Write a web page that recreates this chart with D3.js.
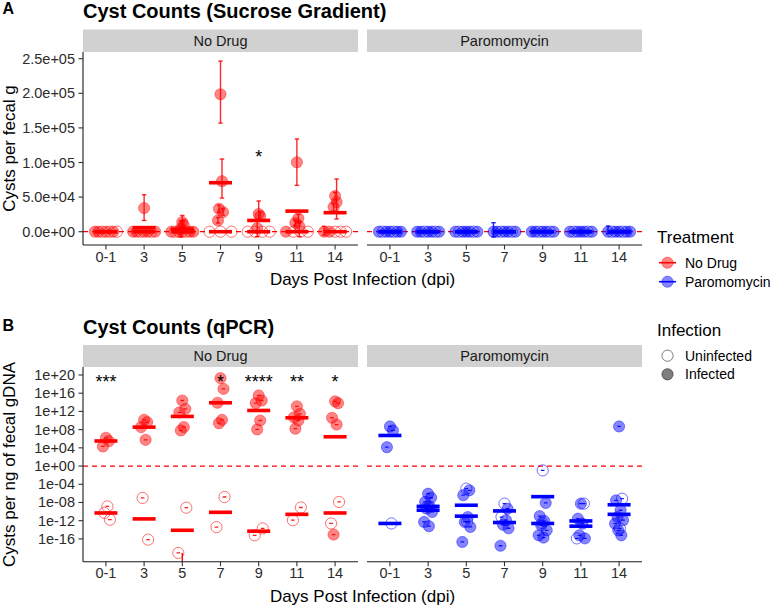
<!DOCTYPE html>
<html><head><meta charset="utf-8">
<script src="https://cdn.jsdelivr.net/npm/d3@7"></script>
<style>body{margin:0;background:#fff} text{font-family:"Liberation Sans",Arial,sans-serif}</style>
</head><body><svg id="c" width="771" height="605"></svg>
<script>
// ---------------- DATA ----------------
const days = ["0-1","3","5","7","9","11","14"];
const treatments = ["No Drug","Paromomycin"];

// Panel A: cysts per fecal g — [day, value, lower, upper, infected]
const sucroseNoDrug = [
 ["0-1",0,0,0,1],["0-1",0,0,0,1],["0-1",0,0,0,0],["0-1",0,0,0,1],["0-1",0,0,0,0],["0-1",0,0,0,1],["0-1",0,0,0,0],
 ["3",34100,16300,53500,1],["3",0,0,0,1],["3",0,0,0,1],["3",0,0,0,0],["3",0,0,0,1],["3",0,0,0,1],["3",0,0,0,0],["3",0,0,0,1],
 ["5",13900,4500,23500,1],["5",9100,1500,17000,1],["5",4300,-7800,16000,1],["5",0,0,0,1],["5",0,0,0,0],["5",0,0,0,1],["5",0,0,0,1],["5",0,0,0,0],["5",0,0,0,1],["5",0,0,0,1],
 ["7",198600,157000,246600,1],["7",73000,48600,105000,1],["7",33200,28000,38500,1],["7",28300,24000,33000,1],["7",16300,12500,20500,1],["7",0,0,0,0],["7",0,0,0,0],["7",0,0,0,0],
 ["9",25600,18000,44400,1],["9",22700,17000,28500,1],["9",4900,-7200,17000,1],["9",0,0,0,0],["9",0,0,0,0],["9",0,0,0,0],["9",0,0,0,0],
 ["11",100300,67000,134000,1],["11",19400,14000,25000,1],["11",12900,9000,17000,1],["11",7700,-7000,15000,1],["11",0,0,0,1],["11",0,0,0,0],["11",0,0,0,0],["11",0,0,0,0],
 ["14",51600,46000,57000,1],["14",42800,18400,76200,1],["14",35600,30000,41000,1],["14",0,-4900,7700,1],["14",0,0,0,1],["14",0,0,0,0],["14",0,0,0,0],["14",0,0,0,0]
];
const sucroseParo = [
 ["0-1",0,0,0,1],["0-1",0,0,0,0],["0-1",0,0,0,1],["0-1",0,0,0,1],["0-1",0,0,0,0],["0-1",0,0,0,1],["0-1",0,0,0,1],
 ["3",0,0,0,1],["3",0,0,0,1],["3",0,0,0,0],["3",0,0,0,1],["3",0,0,0,1],["3",0,0,0,0],["3",0,0,0,1],
 ["5",0,0,0,1],["5",0,0,0,0],["5",0,0,0,1],["5",0,0,0,1],["5",0,0,0,1],["5",0,0,0,0],["5",0,0,0,1],
 ["7",0,-7600,13000,1],["7",0,0,0,1],["7",0,0,0,0],["7",0,0,0,1],["7",0,0,0,1],["7",0,0,0,0],["7",0,0,0,1],
 ["9",0,0,0,1],["9",0,0,0,1],["9",0,0,0,0],["9",0,0,0,1],["9",0,0,0,1],["9",0,0,0,0],["9",0,0,0,1],
 ["11",0,0,0,1],["11",0,0,0,0],["11",0,0,0,1],["11",0,0,0,1],["11",0,0,0,1],["11",0,0,0,0],["11",0,0,0,1],
 ["14",0,-3000,8200,1],["14",0,0,0,0],["14",0,0,0,1],["14",0,0,0,1],["14",0,0,0,0],["14",0,0,0,1],["14",0,0,0,1]
];
// group means (crossbars), one per day
const sucroseNoDrugMeanInf = [0,5800,3500,70800,16300,29800,27500];
const sucroseNoDrugMeanUninf = [0,0,0,0,0,0,0];
const sucroseParoMeanInf = [0,0,0,0,0,0,0];
const sucroseParoMeanUninf = [0,0,0,0,0,0,0];
const sucroseYTicks = [0,5e4,1e5,1.5e5,2e5,2.5e5];
const sucroseStars = [["9","*",1.15e5]];

// Panel B: cysts per ng fecal gDNA — [day, value, infected]
const qpcrNoDrug = [
 ["0-1",1.6e6,1],["0-1",3.0e5,1],["0-1",2.0e4,1],["0-1",1.4e-9,0],["0-1",5e-11,0],["0-1",1.7e-12,0],
 ["3",1.4e10,1],["3",4.4e9,1],["3",3.5e8,1],["3",5.8e5,1],["3",1e-7,0],["3",7e-17,0],
 ["5",2.5e14,1],["5",3.6e12,1],["5",6e11,1],["5",3.5e8,1],["5",6.6e7,1],["5",7.4e-10,0],["5",8.5e-20,0],
 ["7",2e19,1],["7",8.9e16,1],["7",7.9e13,1],["7",1.4e10,1],["7",2.6e9,1],["7",1.6e-7,0],["7",4e-14,0],
 ["9",3.2e15,1],["9",2.5e14,1],["9",6.3e13,1],["9",1e10,1],["9",1.1e8,1],["9",2e-14,0],["9",6.3e-16,0],
 ["11",1.3e13,1],["11",3e11,1],["11",5e10,1],["11",1e10,1],["11",1.6e8,1],["11",7.9e-10,0],["11",1.3e-12,0],
 ["14",1.6e14,1],["14",6.3e13,1],["14",4e10,1],["14",1.3e9,1],["14",8.9e-16,1],["14",1.3e-8,0],["14",2.5e-13,0]
];
const qpcrParo = [
 ["0-1",5e8,1],["0-1",6.6e7,1],["0-1",1.4e4,1],["0-1",2.5e-13,0],
 ["3",8.5e-7,1],["3",1.1e-7,1],["3",1.3e-8,1],["3",1.4e-9,1],["3",4.4e-10,1],["3",8.3e-11,1],["3",5.4e-13,1],["3",6.3e-14,1],["3",1.3e-9,0],
 ["5",1.1e-5,0],["5",4.7e-6,1],["5",4e-7,1],["5",6.3e-12,1],["5",5.4e-13,1],["5",4.3e-14,1],["5",2.2e-17,1],["5",6.3e-13,0],
 ["7",5.6e-9,0],["7",4.4e-10,1],["7",6.3e-12,0],["7",1.3e-12,1],["7",1.3e-13,1],["7",2.2e-14,1],["7",3.2e-18,1],
 ["9",1.1e-1,0],["9",7.9e-9,1],["9",1e-11,1],["9",8.9e-13,1],["9",1e-13,1],["9",7.9e-15,1],["9",6.3e-16,1],["9",2e-16,1],["9",3.2e-13,0],
 ["11",5.6e-9,1],["11",5.6e-9,0],["11",2.8e-12,1],["11",2.2e-13,1],["11",6.3e-16,1],["11",1.3e-16,1],["11",1.3e-16,0],
 ["14",5e8,1],["14",6.8e-8,0],["14",3e-8,1],["14",2e-10,1],["14",6.3e-12,1],["14",1.3e-12,1],["14",2.2e-13,1],["14",2e-14,0],["14",7.9e-15,1],["14",6.3e-16,1]
];
const qpcrNoDrugMeanInf = [3.2e5,3.5e8,7.9e10,7.9e13,1.6e12,4e10,2.7e6];
const qpcrNoDrugMeanUninf = [5e-11,2.5e-12,7.9e-15,7e-11,5e-15,2.5e-11,5e-11];
const qpcrParoMeanInf = [5.2e6,2e-10,1e-11,4e-13,2.5e-13,6.3e-14,3.2e-9];
const qpcrParoMeanUninf = [2.5e-13,1.4e-9,2.5e-9,1.4e-10,1.9e-7,8.9e-13,2.5e-11];
const qpcrNoDrugLongErr = [["5",8.5e-20,1e-40]]; // [day, upper, lower]
const qpcrYTicks = [1e-16,1e-12,1e-8,1e-4,1e0,1e4,1e8,1e12,1e16,1e20];
const qpcrStars = [["0-1","***",3e19],["7","*",3e19],["9","****",3e19],["11","**",3e19],["14","*",3e19]];

// ---------------- DRAW ----------------
const svg = d3.select("#c");
svg.append("rect").attr("width",771).attr("height",605).attr("fill","#fff");
const color = {"No Drug":"#FF0000","Paromomycin":"#0000FF"};
const facetX = {"No Drug":[83,358],"Paromomycin":[367,642]};
const jitB = [0,3,-3,1.5,-1.5,4,-4,0.8,-0.8,2.2];
const jitA = [0,1.5,-1.5,2.5,-2.5];
const R = 5.6;

function fmtA(v){
  if(v===0) return "0.0e+00";
  const e=Math.floor(Math.log10(Math.abs(v))+1e-9);
  const m=v/Math.pow(10,e);
  return m.toFixed(1)+"e"+(e<0?"-":"+")+String(Math.abs(e)).padStart(2,"0");
}
function fmtB(v){
  const e=Math.round(Math.log10(v));
  return "1e"+(e<0?"-":"+")+String(Math.abs(e)).padStart(2,"0");
}

const panels = [
 {id:"A", stripTop:29.5, top:52, bottom:245,
  y:d3.scaleLinear().domain([-19200,259700]).range([245,52]),
  ref:0, ticks:sucroseYTicks, fmt:fmtA,
  data:{"No Drug":sucroseNoDrug,"Paromomycin":sucroseParo},
  mInf:{"No Drug":sucroseNoDrugMeanInf,"Paromomycin":sucroseParoMeanInf},
  mUn:{"No Drug":sucroseNoDrugMeanUninf,"Paromomycin":sucroseParoMeanUninf},
  stars:sucroseStars, log:false},
 {id:"B", stripTop:345, top:367, bottom:561.7,
  y:d3.scaleLog().domain([1e-21,Math.pow(10,21.75)]).range([561.7,367]),
  ref:1, ticks:qpcrYTicks, fmt:fmtB,
  data:{"No Drug":qpcrNoDrug,"Paromomycin":qpcrParo},
  mInf:{"No Drug":qpcrNoDrugMeanInf,"Paromomycin":qpcrParoMeanInf},
  mUn:{"No Drug":qpcrNoDrugMeanUninf,"Paromomycin":qpcrParoMeanUninf},
  stars:qpcrStars, log:true}
];

panels.forEach(P=>{
  treatments.forEach((t,ti)=>{
    const [x0,x1]=facetX[t];
    const x=d3.scalePoint().domain(days).range([x0,x1]).padding(0.6);
    const col=color[t];
    // strip
    svg.append("rect").attr("x",x0).attr("y",P.stripTop).attr("width",x1-x0).attr("height",P.top-P.stripTop).attr("fill","#D1D1D1");
    svg.append("text").attr("x",(x0+x1)/2).attr("y",(P.stripTop+P.top)/2+5).attr("text-anchor","middle")
      .attr("font-size",14.5).attr("fill","#1a1a1a").text(t);
    const cid="clip"+P.id+ti;
    svg.append("clipPath").attr("id",cid).append("rect").attr("x",x0).attr("y",P.top).attr("width",x1-x0).attr("height",P.bottom-P.top);
    const g=svg.append("g").attr("clip-path",`url(#${cid})`);
    // reference line
    g.append("line").attr("x1",x0).attr("x2",x1).attr("y1",P.y(P.ref)).attr("y2",P.y(P.ref))
      .attr("stroke","#FF0000").attr("stroke-width",1.3).attr("stroke-dasharray","5,4");
    // point positions
    const data=P.data[t];
    const pts=[];
    days.forEach(d=>{
      const grp=data.filter(r=>r[0]===d);
      if(!P.log){
        const zeros=grp.filter(r=>r[1]===0), nz=grp.filter(r=>r[1]!==0);
        zeros.forEach((r,k)=>pts.push({r,dx: zeros.length>1? -11+22*k/(zeros.length-1):0}));
        nz.forEach((r,k)=>pts.push({r,dx:jitA[k%jitA.length]}));
      } else {
        grp.forEach((r,k)=>pts.push({r,dx:jitB[k%jitB.length]}));
      }
    });
    pts.forEach(p=>{
      const cx=x(p.r[0])+p.dx, cy=P.y(p.r[1]);
      const inf=P.log? p.r[2] : p.r[4];
      g.append("circle").attr("cx",cx).attr("cy",cy).attr("r",R)
        .attr("fill",inf?col:"none").attr("fill-opacity",inf?0.48:0)
        .attr("stroke",col).attr("stroke-opacity",inf?0.4:0.55).attr("stroke-width",1);
    });
    // error bars
    pts.forEach(p=>{
      const cx=x(p.r[0])+p.dx;
      if(!P.log){
        const lo=p.r[2],hi=p.r[3];
        if(hi>lo){
          const ylo=P.y(lo),yhi=P.y(hi);
          const eg=g.append("g").attr("stroke",col).attr("stroke-width",1.4).attr("stroke-opacity",0.85);
          eg.append("line").attr("x1",cx).attr("x2",cx).attr("y1",ylo).attr("y2",yhi);
          eg.append("line").attr("x1",cx-2.2).attr("x2",cx+2.2).attr("y1",ylo).attr("y2",ylo);
          eg.append("line").attr("x1",cx-2.2).attr("x2",cx+2.2).attr("y1",yhi).attr("y2",yhi);
        }
      } else {
        const cy=P.y(p.r[1]);
        g.append("line").attr("x1",cx-1.8).attr("x2",cx+1.8).attr("y1",cy).attr("y2",cy)
          .attr("stroke",col).attr("stroke-width",1.3).attr("stroke-opacity",0.9);
      }
    });
    if(P.log && t==="No Drug"){
      qpcrNoDrugLongErr.forEach(e=>{
        g.append("line").attr("x1",x(e[0])).attr("x2",x(e[0])).attr("y1",P.y(e[1])).attr("y2",P.y(e[2]))
          .attr("stroke",col).attr("stroke-width",1.4);
      });
    }
    // crossbars
    [P.mInf[t],P.mUn[t]].forEach(arr=>{
      arr.forEach((v,i)=>{
        g.append("rect").attr("x",x(days[i])-11.5).attr("width",23).attr("y",P.y(v)-1.8).attr("height",3.6).attr("fill",col);
      });
    });
    // stars
    if(t==="No Drug"){
      P.stars.forEach(s=>{
        svg.append("text").attr("x",x(s[0])).attr("y",P.y(s[2])+10.5).attr("text-anchor","middle")
          .attr("font-size",18).attr("fill","#000").text(s[1]);
      });
    }
    // x axis
    const xa=svg.append("g").attr("transform",`translate(0,${P.bottom})`);
    xa.append("line").attr("x1",x0).attr("x2",x1).attr("stroke","#1a1a1a").attr("stroke-width",1.1);
    days.forEach(d=>{
      xa.append("line").attr("x1",x(d)).attr("x2",x(d)).attr("y1",0).attr("y2",4.5).attr("stroke","#333").attr("stroke-width",1.1);
      xa.append("text").attr("x",x(d)).attr("y",16.8).attr("text-anchor","middle").attr("font-size",14.5).attr("fill","#2b2b2b").text(d);
    });
    // y axis
    if(t==="No Drug"){
      const ya=svg.append("g").attr("transform",`translate(${x0},0)`);
      ya.append("line").attr("y1",P.top).attr("y2",P.bottom).attr("stroke","#1a1a1a").attr("stroke-width",1.1);
      P.ticks.forEach(v=>{
        const yy=P.y(v);
        ya.append("line").attr("x1",-4.5).attr("x2",0).attr("y1",yy).attr("y2",yy).attr("stroke","#333").attr("stroke-width",1.1);
        ya.append("text").attr("x",-8).attr("y",yy+5).attr("text-anchor","end").attr("font-size",14.5).attr("fill","#2b2b2b").text(P.fmt(v));
      });
    }
  });
});

// titles
function txt(x,y,s,size,weight,anchor,rot){
  const t=svg.append("text").attr("x",x).attr("y",y).attr("font-size",size).attr("font-weight",weight||"normal")
    .attr("text-anchor",anchor||"start").attr("fill","#000").text(s);
  if(rot) t.attr("transform",`rotate(${rot},${x},${y})`);
  return t;
}
txt(2.5,14,"A",16,"bold");
txt(83,18.3,"Cyst Counts (Sucrose Gradient)",20,"bold");
txt(2.5,330.5,"B",16,"bold");
txt(83,334,"Cyst Counts (qPCR)",20,"bold");
txt(362.5,285,"Days Post Infection (dpi)",17,"normal","middle");
txt(362.5,602,"Days Post Infection (dpi)",17,"normal","middle");
txt(15,148.5,"Cysts per fecal g",17,"normal","middle",-90);
txt(15,464.5,"Cysts per ng of fecal gDNA",17,"normal","middle",-90);

// legends
txt(657,243,"Treatment",17);
treatments.forEach((t,i)=>{
  const yy=262.7+i*19;
  svg.append("line").attr("x1",659).attr("x2",676).attr("y1",yy).attr("y2",yy).attr("stroke",color[t]).attr("stroke-width",1.6);
  svg.append("circle").attr("cx",667.5).attr("cy",yy).attr("r",R).attr("fill",color[t]).attr("fill-opacity",0.48)
    .attr("stroke",color[t]).attr("stroke-opacity",0.4);
  txt(685,yy+5,t,14);
});
txt(657,336,"Infection",17);
["Uninfected","Infected"].forEach((s,i)=>{
  const yy=355.7+i*18.6;
  svg.append("circle").attr("cx",667.5).attr("cy",yy).attr("r",R)
    .attr("fill",i?"#000":"none").attr("fill-opacity",i?0.5:0).attr("stroke","#000").attr("stroke-opacity",0.5).attr("stroke-width",1);
  txt(685,yy+5,s,14);
});
</script></body></html>
